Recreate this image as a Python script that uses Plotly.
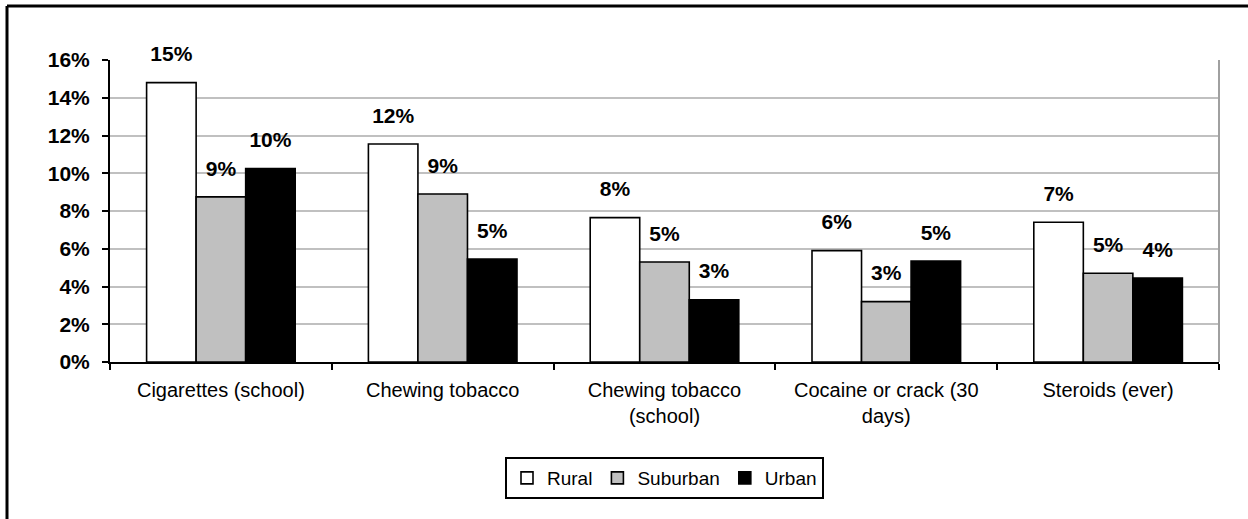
import plotly.graph_objects as go

categories = ["Cigarettes (school)", "Chewing tobacco", "Chewing tobacco<br>(school)",
              "Cocaine or crack (30<br>days)", "Steroids (ever)"]
rural = [14.8, 11.55, 7.65, 5.9, 7.4]
suburban = [8.75, 8.9, 5.3, 3.2, 4.7]
urban = [10.25, 5.45, 3.3, 5.35, 4.45]
series_names = ["Rural", "Suburban", "Urban"]
fills = ["#ffffff", "#c0c0c0", "#000000"]
y_ticks = [0, 2, 4, 6, 8, 10, 12, 14, 16]
y_ticktext = [f"{v}%" for v in y_ticks]

FONT = "Liberation Sans, Arial, sans-serif"
W, H = 1248, 519
L, R, T, B = 110, 29, 60, 157
pw, ph = W - L - R, H - T - B

fig = go.Figure()
for name, vals, col in zip(series_names, [rural, suburban, urban], fills):
    fig.add_trace(go.Bar(
        x=categories, y=vals, name=name,
        marker=dict(color=col, line=dict(color="#000000", width=1.6)),
    ))
for name, vals in zip(series_names, [rural, suburban, urban]):
    fig.add_trace(go.Scatter(
        x=categories, y=vals, mode="markers+text",
        text=[f"{v:.0f}%" for v in vals], textposition="top center",
        marker=dict(size=24, opacity=0),
        textfont=dict(family=FONT, size=21, color="#000000", weight="bold"),
        showlegend=False, cliponaxis=False, hoverinfo="skip",
    ))

fig.update_layout(
    width=W, height=H,
    margin=dict(l=L, r=R, t=T, b=B),
    paper_bgcolor="#ffffff", plot_bgcolor="#ffffff",
    barmode="group", bargap=0.33, bargroupgap=0,
    scattermode="group", scattergap=0.33,
    font=dict(family=FONT, color="#000000"),
    legend=dict(
        orientation="h", x=0.5, xanchor="center", y=(362 - 478) / ph, yanchor="middle",
        bordercolor="#000000", borderwidth=2, font=dict(size=19, family=FONT),
        itemwidth=30, bgcolor="#ffffff",
    ),
    showlegend=True,
)
fig.update_yaxes(
    range=[0, 16], tickmode="array", tickvals=y_ticks, ticktext=y_ticktext,
    showgrid=True, gridcolor="#c0c0c0", gridwidth=2,
    showline=True, linecolor="#000000", linewidth=2,
    ticks="outside", ticklen=6, tickwidth=2, tickcolor="#000000",
    tickfont=dict(family=FONT, size=21, color="#000000", weight="bold"),
    ticklabelstandoff=8, zeroline=False, fixedrange=True,
)
fig.update_xaxes(
    showline=True, linecolor="#000000", linewidth=2,
    ticks="outside", ticklen=6, tickwidth=2, tickcolor="#000000",
    tickson="boundaries", showgrid=False,
    tickfont=dict(family=FONT, size=20, color="#000000"),
    ticklabelstandoff=9, fixedrange=True,
)

# plot-area right border (gray)
fig.add_shape(type="line", xref="paper", yref="paper", x0=1, x1=1, y0=0, y1=1,
              line=dict(color="#a0a0a0", width=2))
# outer chart frame: only top and left edges are visible in the crop
top_y = 1 + (T - 6) / ph
left_x = (7 - L) / pw
fig.add_shape(type="line", xref="paper", yref="paper",
              x0=left_x, x1=(W - L) / pw, y0=top_y, y1=top_y,
              line=dict(color="#000000", width=3), layer="below")
fig.add_shape(type="line", xref="paper", yref="paper",
              x0=left_x, x1=left_x, y0=-(H - (T + ph)) / ph, y1=top_y,
              line=dict(color="#000000", width=3), layer="below")

fig.write_html("out.html")
